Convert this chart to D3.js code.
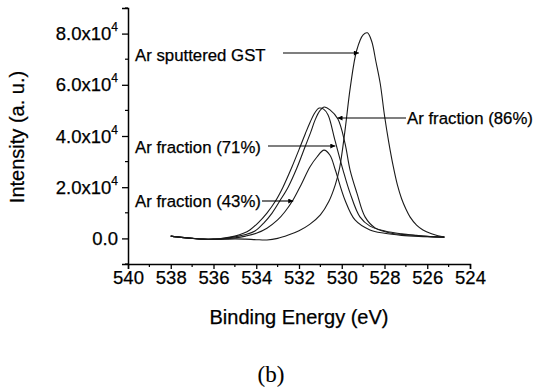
<!DOCTYPE html>
<html>
<head>
<meta charset="utf-8">
<script src="https://cdn.jsdelivr.net/npm/d3@7"></script>
<style>
  html, body { margin: 0; padding: 0; background: #fff; }
  svg { display: block; }
  text { font-family: "Liberation Sans", Arial, sans-serif; fill: #000; stroke: #000; stroke-width: 0.25px; }
</style>
</head>
<body>
<svg id="chart" width="534" height="390"></svg>
<script>
// O 1s XPS spectra: binding energy (eV) vs intensity (a.u.)
const energyGST = [538, 537.5, 537, 536.5, 536, 535.5, 535, 534.5, 534, 533.5, 533, 532.5, 532, 531.5, 531, 530.6, 530.3, 530.1, 529.85, 529.6, 529.3, 529, 528.8, 528.6, 528.4, 528.2, 528, 527.8, 527.6, 527.4, 527.2, 527, 526.8, 526.5, 526.2, 525.8, 525.5, 525.2];
const intensityGST = [900, 400, 0, -300, -400, -350, -200, -300, -500, -600, 0, 1300, 3000, 5500, 9200, 14500, 21000, 27500, 42000, 59000, 73500, 79500, 80300, 77000, 69000, 60500, 48000, 37500, 28500, 21000, 15500, 11500, 8300, 5200, 3300, 1800, 1000, 500];

const energy71 = [538, 537.5, 537, 536.5, 536, 535.5, 535, 534.6, 534.3, 533.9, 533.5, 533.1, 532.75, 532.35, 531.95, 531.7, 531.48, 531.25, 531.06, 530.85, 530.64, 530.32, 529.94, 529.61, 529.15, 528.68, 527.98, 527.2, 526.5, 525.8, 525.2];
const intensity71 = [900, 400, 0, -300, -300, 100, 900, 2000, 3300, 6200, 9900, 14600, 20000, 27500, 35700, 41000, 45400, 49200, 50900, 50500, 48200, 38400, 26700, 17700, 8400, 4800, 2900, 1800, 1200, 700, 500];

const energy86 = [538, 537.5, 537, 536.5, 536, 535.5, 535, 534.5, 534.06, 533.65, 533.26, 532.9, 532.51, 532.1, 531.72, 531.45, 531.25, 531.03, 530.83, 530.55, 530.18, 529.85, 529.61, 529.29, 528.91, 528.44, 527.74, 526.8, 526, 525.2];
const intensity86 = [900, 400, 0, -300, -300, 0, 600, 1500, 2900, 6000, 9900, 14600, 20000, 27500, 35700, 41500, 46200, 49800, 51300, 50200, 46600, 37200, 26700, 17700, 8400, 4100, 2100, 1300, 800, 500];

const energy43 = [538, 537.5, 537, 536.5, 536, 535.5, 535, 534.5, 534, 533.5, 533, 532.65, 532.28, 531.9, 531.49, 531.16, 530.83, 530.55, 530.3, 529.85, 529.38, 528.68, 528, 527.2, 526.4, 525.2];
const intensity43 = [900, 400, 0, -300, -300, -200, 200, 900, 2000, 4000, 7200, 10500, 15000, 21000, 27900, 31800, 34500, 32500, 26700, 15000, 7200, 3300, 2000, 1200, 800, 500];

const seriesNames = ["Ar sputtered GST", "Ar fraction (71%)", "Ar fraction (86%)", "Ar fraction (43%)"];

const xTicks = [540, 538, 536, 534, 532, 530, 528, 526, 524];
const yTicks = [0, 20000, 40000, 60000, 80000];
const yTickLabels = ["0.0", "2.0x10", "4.0x10", "6.0x10", "8.0x10"];

const svg = d3.select("#chart");

const x = d3.scaleLinear().domain([540, 524]).range([128, 470]);
const y = d3.scaleLinear().domain([-10000, 90000]).range([264, 8]);

// Bottom axis with major and minor ticks
const xAxis = d3.axisBottom(x).tickValues(xTicks).tickSize(5).tickFormat(d3.format("d"));
const gx = svg.append("g").attr("transform", "translate(0,264)").call(xAxis);
gx.select(".domain").attr("stroke", "#000").attr("stroke-width", 1.5);
gx.selectAll(".tick line").attr("stroke", "#000").attr("stroke-width", 1.3);
gx.selectAll(".tick text").attr("font-size", 18.5).attr("dy", "0.3em").attr("y", 14)
  .attr("font-family", "Liberation Sans, Arial, sans-serif");

const xMinor = d3.range(539, 524, -2);
gx.selectAll(".minor").data(xMinor).join("line")
  .attr("x1", d => x(d)).attr("x2", d => x(d)).attr("y1", 0).attr("y2", 3)
  .attr("stroke", "#000").attr("stroke-width", 1.2);

// Left axis with major and minor ticks
const yAxis = d3.axisLeft(y).tickValues(yTicks).tickSize(6).tickFormat("");
const gy = svg.append("g").attr("transform", "translate(128,0)").call(yAxis);
gy.select(".domain").attr("stroke", "#000").attr("stroke-width", 1.5);
gy.selectAll(".tick line").attr("stroke", "#000").attr("stroke-width", 1.3);

const yMinor = [-10000, 10000, 30000, 50000, 70000, 90000];
gy.selectAll(".minor").data(yMinor).join("line")
  .attr("x1", 0).attr("x2", -3).attr("y1", d => y(d)).attr("y2", d => y(d))
  .attr("stroke", "#000").attr("stroke-width", 1.2);

// y tick labels with superscript exponent
yTicks.forEach((v, i) => {
  const t = svg.append("text")
    .attr("x", 118).attr("y", y(v)).attr("dy", "0.36em")
    .attr("text-anchor", "end").attr("font-size", 18.5);
  if (v === 0) {
    t.text(yTickLabels[i]);
  } else {
    t.append("tspan").text(yTickLabels[i]);
    t.append("tspan").attr("font-size", 12).attr("dy", "-0.75em").text("4");
  }
});

// Axis titles
svg.append("text")
  .attr("x", x(532)).attr("y", 324)
  .attr("text-anchor", "middle").attr("font-size", 20)
  .text("Binding Energy (eV)");

svg.append("text")
  .attr("transform", "translate(24,137) rotate(-90)")
  .attr("text-anchor", "middle").attr("font-size", 20)
  .text("Intensity (a. u.)");

svg.append("text")
  .attr("x", 271).attr("y", 382)
  .attr("text-anchor", "middle").attr("font-size", 23)
  .style("font-family", "'Liberation Serif', 'Times New Roman', serif")
  .style("stroke-width", "0.1px")
  .text("(b)");

// Spectra
const line = d3.line()
  .x(d => x(d[0])).y(d => y(d[1]))
  .curve(d3.curveCatmullRom.alpha(0.5));

const spectra = [
  d3.zip(energyGST, intensityGST),
  d3.zip(energy71, intensity71),
  d3.zip(energy86, intensity86),
  d3.zip(energy43, intensity43)
];

svg.append("g").selectAll("path").data(spectra).join("path")
  .attr("d", line)
  .attr("fill", "none")
  .attr("stroke", "#1a1a1a")
  .attr("stroke-width", 1.1);

// Annotations with arrows
const defs = svg.append("defs");
defs.append("marker")
  .attr("id", "arrow")
  .attr("viewBox", "0 0 10 10")
  .attr("refX", 10).attr("refY", 5)
  .attr("markerWidth", 7).attr("markerHeight", 5)
  .attr("markerUnits", "userSpaceOnUse")
  .attr("orient", "auto")
  .append("path").attr("d", "M0,0L10,5L0,10Z").attr("fill", "#000");

const labelPos = [
  { text: seriesNames[0], tx: 135, ty: 61, from: [283, 53], to: [x(529.2), 53] },
  { text: seriesNames[1], tx: 135, ty: 153, from: [268, 146], to: [x(530.3), 146] },
  { text: seriesNames[2], tx: 407, ty: 124, from: [406, 118], to: [x(530.2), 118] },
  { text: seriesNames[3], tx: 135, ty: 207, from: [262, 201], to: [x(532.27), 201] }
];

labelPos.forEach(l => {
  svg.append("text")
    .attr("x", l.tx).attr("y", l.ty)
    .attr("text-anchor", "start").attr("font-size", 16.8)
    .text(l.text);
  svg.append("line")
    .attr("x1", l.from[0]).attr("y1", l.from[1])
    .attr("x2", l.to[0]).attr("y2", l.to[1])
    .attr("stroke", "#000").attr("stroke-width", 1.1)
    .attr("marker-end", "url(#arrow)");
});
</script>
</body>
</html>
